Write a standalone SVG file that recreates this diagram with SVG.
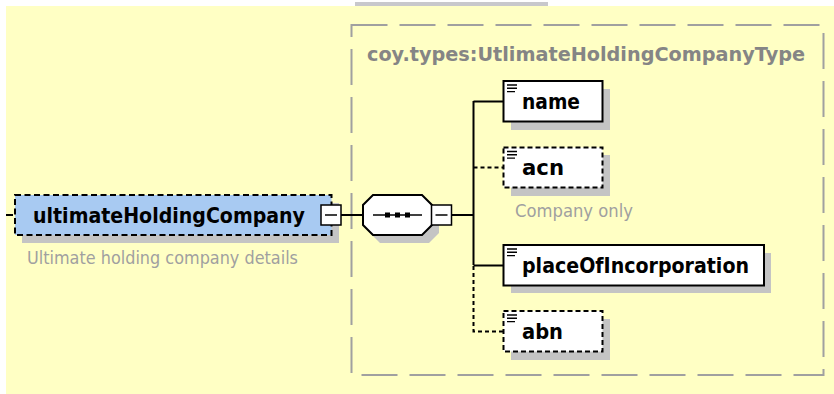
<svg xmlns="http://www.w3.org/2000/svg" xmlns:xlink="http://www.w3.org/1999/xlink" width="834" height="394" viewBox="0 0 834 394">
<style>
.bg{fill:#FFFFC4}
.shadow{fill:#C4C4C4}
.box{fill:#FFFFFF;stroke:#000;stroke-width:2}
.opt{stroke-dasharray:5 3}
.elem{fill:#A8CAF2;stroke:#000;stroke-width:2;stroke-dasharray:6 3.5}
.lbl{font-family:"DejaVu Sans",Verdana,sans-serif;font-weight:bold;font-size:20.5px;fill:#000}
.note{font-family:"DejaVu Sans",Verdana,sans-serif;font-size:17px;fill:#A0A0A0}
.type{font-family:"DejaVu Sans",Verdana,sans-serif;font-weight:bold;font-size:20px;fill:#858585}
.con{stroke:#000;stroke-width:2;fill:none}
.dcon{stroke:#000;stroke-width:2;fill:none;stroke-dasharray:4 3}
.btn{fill:#fff;stroke:#000;stroke-width:1.5}
</style>
<defs>
<g id="icon">
<path d="M0 0.5h10M0 3.8h10M0 7.1h8" stroke="#000" stroke-width="1.4"/>
</g>
</defs>
<rect x="0" y="0" width="834" height="394" fill="#fff"/>
<rect class="bg" x="6" y="6" width="828" height="388"/>
<rect x="355" y="2" width="193" height="4" fill="#C8C8CC"/>

<g id="typeBox">
<rect x="351.5" y="25" width="472" height="350" fill="none" stroke="#A0A0A0" stroke-width="2" stroke-dasharray="36 12"/>
<text class="type" x="367" y="61" textLength="438" lengthAdjust="spacingAndGlyphs">coy.types:UtlimateHoldingCompanyType</text>
</g>

<g id="connectors">
<line class="con" x1="6" y1="215" x2="13" y2="215"/>
<line class="con" x1="341" y1="215" x2="363" y2="215"/>
<line class="con" x1="451" y1="215" x2="473.5" y2="215"/>
<line class="con" x1="473.5" y1="101" x2="473.5" y2="265"/>
<line class="con" x1="473.5" y1="101.5" x2="504" y2="101.5"/>
<line class="dcon" x1="473.5" y1="167.5" x2="504" y2="167.5"/>
<line class="con" x1="473.5" y1="265.5" x2="504" y2="265.5"/>
<path class="dcon" d="M473.5 266V331.5H504"/>
</g>

<g id="ultimateHoldingCompany">
<rect class="shadow" x="22" y="203" width="317" height="40"/>
<rect class="elem" x="15" y="195" width="316.5" height="40"/>
<text class="lbl" x="33" y="222.5" textLength="272" lengthAdjust="spacingAndGlyphs">ultimateHoldingCompany</text>
<rect class="btn" x="321" y="205" width="20" height="20"/>
<line x1="325" y1="215" x2="337" y2="215" stroke="#000" stroke-width="1.5"/>
<text class="note" x="27" y="263.5" textLength="271" lengthAdjust="spacingAndGlyphs">Ultimate holding company details</text>
</g>

<g id="sequence">
<path class="shadow" d="M380 203H429L439 213V233L429 243H380L370 233V213Z"/>
<path d="M373 195H422L432 205V225L422 235H373L363 225V205Z" fill="#fff" stroke="#000" stroke-width="2"/>
<line x1="373" y1="215" x2="422" y2="215" stroke="#000" stroke-width="1.5"/>
<rect x="385" y="212.5" width="5" height="5" fill="#000"/>
<rect x="395" y="212.5" width="5" height="5" fill="#000"/>
<rect x="405" y="212.5" width="5" height="5" fill="#000"/>
<rect class="btn" x="431.5" y="205" width="20" height="20"/>
<line x1="435.5" y1="215" x2="447.5" y2="215" stroke="#000" stroke-width="1.5"/>
</g>

<g id="name">
<rect class="shadow" x="511" y="89" width="99" height="41"/>
<rect class="box" x="503.5" y="81" width="99" height="40.5"/>
<use xlink:href="#icon" x="507" y="84.5"/>
<text class="lbl" x="522" y="108.5" textLength="58" lengthAdjust="spacingAndGlyphs">name</text>
</g>

<g id="acn">
<rect class="shadow" x="511" y="155" width="99" height="41"/>
<rect class="box opt" x="503.5" y="147.5" width="99" height="40"/>
<use xlink:href="#icon" x="507" y="151"/>
<text class="lbl" x="522" y="174.5" textLength="42" lengthAdjust="spacingAndGlyphs">acn</text>
<text class="note" x="515" y="217" textLength="118" lengthAdjust="spacingAndGlyphs">Company only</text>
</g>

<g id="placeOfIncorporation">
<rect class="shadow" x="511" y="253" width="260" height="40"/>
<rect class="box" x="503.5" y="245" width="260.5" height="40.5"/>
<use xlink:href="#icon" x="507" y="248.5"/>
<text class="lbl" x="522" y="272.5" textLength="227" lengthAdjust="spacingAndGlyphs">placeOfIncorporation</text>
</g>

<g id="abn">
<rect class="shadow" x="511" y="319" width="99" height="41"/>
<rect class="box opt" x="503.5" y="311" width="99" height="40.5"/>
<use xlink:href="#icon" x="507" y="314.5"/>
<text class="lbl" x="522" y="338.5" textLength="41" lengthAdjust="spacingAndGlyphs">abn</text>
</g>
</svg>
